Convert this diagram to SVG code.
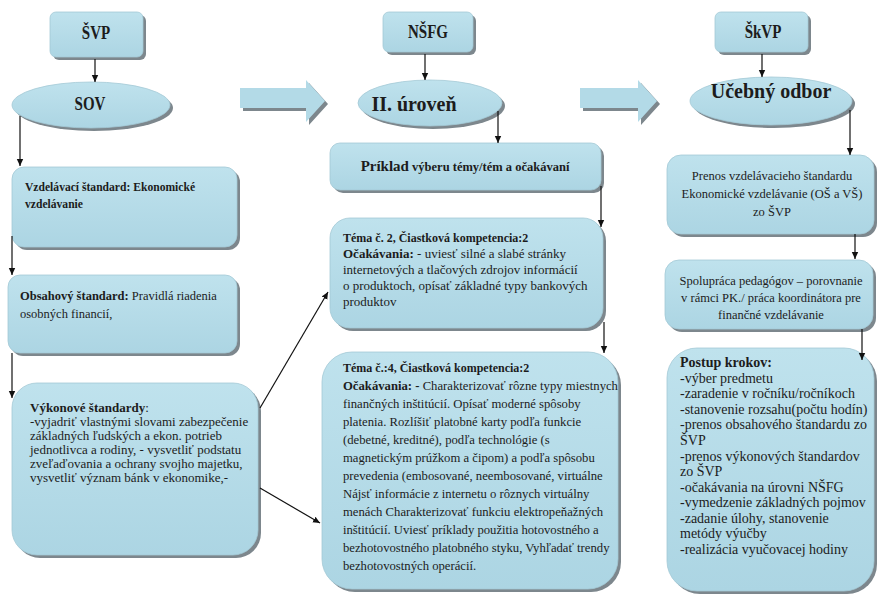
<svg xmlns="http://www.w3.org/2000/svg" width="879" height="599" viewBox="0 0 879 599">
<defs>
<linearGradient id="g" x1="0" y1="0" x2="0" y2="1">
<stop offset="0" stop-color="#bfe2ed"/>
<stop offset="1" stop-color="#acd5e3"/>
</linearGradient>
<marker id="ah" markerWidth="8" markerHeight="8" refX="7" refY="4" orient="auto" markerUnits="userSpaceOnUse">
<path d="M0,0.8 L7,4 L0,7.2 Z" fill="#111"/>
</marker>
<style>
.sh{fill:#7d878d}
.bx{fill:url(#g);stroke:#a3c9d6;stroke-width:0.8}
.t{font-family:"Liberation Serif","Times New Roman",serif;font-size:12.5px;fill:#1c1c1c}
.b{font-weight:bold}
.h{font-family:"Liberation Serif","Times New Roman",serif;font-size:15px;font-weight:bold;fill:#1c1c1c;text-anchor:middle}
.c{text-anchor:middle}
.ln{fill:none;stroke:#111;stroke-width:1.2;marker-end:url(#ah)}
</style>
</defs>
<rect width="879" height="599" fill="#ffffff"/>

<g id="blockarrows">
<path class="sh" d="M243,91 L309,91 L309,83 L328,104 L309,125 L309,111 L243,111 Z"/>
<path fill="#b3dae7" d="M240,88 L306,88 L306,80 L325,101 L306,122 L306,108 L240,108 Z"/>
<path class="sh" d="M583,91 L641,91 L641,83 L660,104 L641,125 L641,111 L583,111 Z"/>
<path fill="#b3dae7" d="M580,88 L638,88 L638,80 L657,101 L638,122 L638,108 L580,108 Z"/>
</g>

<g id="svp">
<rect class="sh" x="53" y="15" width="93" height="45" rx="6"/>
<rect class="bx" x="50" y="12" width="93" height="45" rx="6"/>
<text class="h" transform="translate(96,39) scale(1,1.3)">ŠVP</text>
</g>
<g id="sov">
<ellipse class="sh" cx="94" cy="108" rx="79" ry="23"/>
<ellipse class="bx" cx="91" cy="105" rx="79" ry="23"/>
<text class="h" transform="translate(90,110) scale(1,1.3)">SOV</text>
</g>
<g id="vzdelavaci">
<rect class="sh" x="15" y="170" width="225" height="80" rx="12"/>
<rect class="bx" x="12" y="167" width="225" height="80" rx="12"/>
<text class="t b" style="font-size:11.6px"><tspan x="25" y="191">Vzdelávací štandard: Ekonomické</tspan><tspan x="25" y="208">vzdelávanie</tspan></text>
</g>
<g id="obsahovy">
<rect class="sh" x="11" y="278" width="229" height="78" rx="12"/>
<rect class="bx" x="8" y="275" width="229" height="78" rx="12"/>
<text class="t"><tspan x="20" y="300"><tspan class="b">Obsahový štandard:</tspan> Pravidlá riadenia</tspan><tspan x="20" y="318">osobných financií,</tspan></text>
</g>
<g id="vykonove">
<rect class="sh" x="15" y="386" width="246" height="172" rx="25"/>
<rect class="bx" x="12" y="383" width="246" height="172" rx="25"/>
<text class="t" style="font-size:13px"><tspan x="30" y="412"><tspan class="b">Výkonové štandardy</tspan>:</tspan><tspan x="30" y="426">-vyjadriť vlastnými slovami zabezpečenie</tspan><tspan x="30" y="440">základných ľudských a ekon. potrieb</tspan><tspan x="30" y="454">jednotlivca a rodiny, - vysvetliť podstatu</tspan><tspan x="30" y="468">zveľaďovania a ochrany svojho majetku,</tspan><tspan x="30" y="482">vysvetliť význam bánk v ekonomike,-</tspan></text>
</g>

<g id="nsfg">
<rect class="sh" x="386" y="15" width="90" height="40" rx="6"/>
<rect class="bx" x="383" y="12" width="90" height="40" rx="6"/>
<text class="h" transform="translate(428,38) scale(1,1.3)">NŠFG</text>
</g>
<g id="uroven">
<ellipse class="sh" cx="433" cy="106" rx="72" ry="23"/>
<ellipse class="bx" cx="430" cy="103" rx="72" ry="23"/>
<text class="h" x="414" y="111" style="font-size:20px">II. úroveň</text>
</g>
<g id="priklad">
<rect class="sh" x="333" y="146" width="271" height="47" rx="10"/>
<rect class="bx" x="330" y="143" width="271" height="47" rx="10"/>
<text class="t b c" x="465" y="171"><tspan style="font-size:15px">Príklad</tspan> výberu témy/tém a očakávaní</text>
</g>
<g id="tema2">
<rect class="sh" x="333" y="221" width="273" height="110" rx="20"/>
<rect class="bx" x="330" y="218" width="273" height="110" rx="20"/>
<text class="t" style="font-size:13px"><tspan x="343" y="242" class="b" style="font-size:12px">Téma č. 2, Čiastková kompetencia:2</tspan><tspan x="343" y="258"><tspan class="b">Očakávania:</tspan> - uviesť silné a slabé stránky</tspan><tspan x="343" y="274">internetových a tlačových zdrojov informácií</tspan><tspan x="343" y="290">o produktoch, opísať základné typy bankových</tspan><tspan x="343" y="306">produktov</tspan></text>
</g>
<g id="tema4">
<rect class="sh" x="325" y="355" width="296" height="237" rx="30"/>
<rect class="bx" x="322" y="352" width="296" height="237" rx="30"/>
<text class="t" style="font-size:12.7px"><tspan x="343" y="372" class="b" style="font-size:12px">Téma č.:4, Čiastková kompetencia:2</tspan><tspan x="343" y="390"><tspan class="b">Očakávania: -</tspan> Charakterizovať rôzne typy miestnych</tspan><tspan x="343" y="408">finančných inštitúcií. Opísať moderné spôsoby</tspan><tspan x="343" y="426">platenia. Rozlíšiť platobné karty podľa funkcie</tspan><tspan x="343" y="444">(debetné, kreditné), podľa technológie (s</tspan><tspan x="343" y="462">magnetickým prúžkom a čipom) a podľa spôsobu</tspan><tspan x="343" y="480">prevedenia (embosované, neembosované, virtuálne</tspan><tspan x="343" y="498">Nájsť informácie z internetu o rôznych virtuálny</tspan><tspan x="343" y="516">menách Charakterizovať funkciu elektropeňažných</tspan><tspan x="343" y="534">inštitúcií. Uviesť príklady použitia hotovostného a</tspan><tspan x="343" y="552">bezhotovostného platobného styku, Vyhľadať trendy</tspan><tspan x="343" y="570">bezhotovostných operácií.</tspan></text>
</g>

<g id="skvp">
<rect class="sh" x="718" y="15" width="93" height="40" rx="6"/>
<rect class="bx" x="715" y="12" width="93" height="40" rx="6"/>
<text class="h" transform="translate(763,38) scale(1,1.3)">ŠkVP</text>
</g>
<g id="ucebny">
<ellipse class="sh" cx="774" cy="104" rx="81" ry="24"/>
<ellipse class="bx" cx="771" cy="101" rx="81" ry="24"/>
<text class="h" x="771" y="98" style="font-size:20px">Učebný odbor</text>
</g>
<g id="prenos">
<rect class="sh" x="670" y="158" width="207" height="79" rx="14"/>
<rect class="bx" x="667" y="155" width="207" height="79" rx="14"/>
<text class="t c"><tspan x="772" y="180">Prenos vzdelávacieho štandardu</tspan><tspan x="772" y="198">Ekonomické vzdelávanie (OŠ a VŠ)</tspan><tspan x="772" y="216">zo ŠVP</tspan></text>
</g>
<g id="spolupraca">
<rect class="sh" x="668" y="263" width="208" height="69" rx="14"/>
<rect class="bx" x="665" y="260" width="208" height="69" rx="14"/>
<text class="t c"><tspan x="771" y="285">Spolupráca pedagógov – porovnanie</tspan><tspan x="771" y="302">v rámci PK./ práca koordinátora pre</tspan><tspan x="771" y="319">finančné vzdelávanie</tspan></text>
</g>
<g id="postup">
<rect class="sh" x="670" y="351" width="207" height="243" rx="30"/>
<rect class="bx" x="667" y="348" width="207" height="243" rx="30"/>
<text class="t" style="font-size:14px"><tspan x="680" y="367" class="b">Postup krokov:</tspan><tspan x="680" y="383">-výber predmetu</tspan><tspan x="680" y="398">-zaradenie v ročníku/ročníkoch</tspan><tspan x="680" y="414">-stanovenie rozsahu(počtu hodín)</tspan><tspan x="680" y="429">-prenos obsahového štandardu zo</tspan><tspan x="680" y="445">ŠVP</tspan><tspan x="680" y="461">-prenos výkonových štandardov</tspan><tspan x="680" y="476">zo ŠVP</tspan><tspan x="680" y="492">-očakávania na úrovni NŠFG</tspan><tspan x="680" y="507">-vymedzenie základných pojmov</tspan><tspan x="680" y="523">-zadanie úlohy, stanovenie</tspan><tspan x="680" y="538">metódy výučby</tspan><tspan x="680" y="554">-realizácia vyučovacej hodiny</tspan></text>
</g>

<g id="connectors">
<path class="ln" d="M95,59 L95,82"/>
<path class="ln" d="M20,116 L20,166"/>
<path class="ln" d="M12,236 L12,275"/>
<path class="ln" d="M12,353 L12,398"/>
<path class="ln" d="M260,408 L328,292"/>
<path class="ln" d="M260,488 L320,523"/>
<path class="ln" d="M425,54 L425,80"/>
<path class="ln" d="M498,111 L498,143"/>
<path class="ln" d="M601,186 L601,227"/>
<path class="ln" d="M604,322 L604,353"/>
<path class="ln" d="M762,54 L762,77"/>
<path class="ln" d="M850,110 L850,155"/>
<path class="ln" d="M855,234 L855,259"/>
<path class="ln" d="M862,329 L862,360"/>
</g>
</svg>
